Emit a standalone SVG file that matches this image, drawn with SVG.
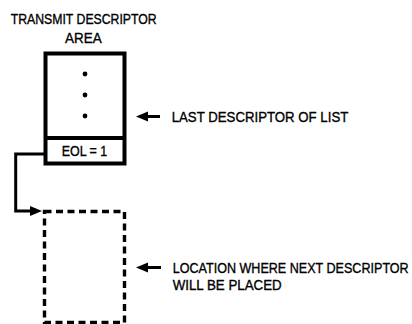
<svg xmlns="http://www.w3.org/2000/svg" width="412" height="324" viewBox="0 0 412 324">
<style>
  text { font-family: "Liberation Sans", Arial, sans-serif; font-size: 14.5px; fill: #000; stroke: #000; stroke-width: 0.35; }
  .box { fill: #fff; stroke: #000; stroke-width: 4; }
  .dash { fill: none; stroke: #000; stroke-width: 3.4; stroke-dasharray: 7 4.5; }
  .line { fill: none; stroke: #000; stroke-width: 3; }
</style>
<defs>
  <marker id="arr" markerUnits="userSpaceOnUse" markerWidth="13" markerHeight="11" refX="6" refY="5" orient="auto">
    <path d="M0,0 L12,5 L0,10 z" fill="#000"/>
  </marker>
</defs>
<rect width="412" height="324" fill="#fff"/>
<text x="10.7" y="23.5" textLength="146" lengthAdjust="spacingAndGlyphs">TRANSMIT DESCRIPTOR</text>
<text x="65" y="42.5" textLength="36.7" lengthAdjust="spacingAndGlyphs">AREA</text>
<g id="last-descriptor">
  <rect class="box" x="45.5" y="53.5" width="79" height="110"/>
  <line x1="45.5" y1="138" x2="124.5" y2="138" stroke="#000" stroke-width="4"/>
  <circle cx="85" cy="74" r="2.4"/>
  <circle cx="85" cy="95" r="2.4"/>
  <circle cx="85" cy="116" r="2.4"/>
  <text x="61.7" y="155.7" textLength="45.6" lengthAdjust="spacingAndGlyphs">EOL = 1</text>
</g>
<g id="next-location">
  <rect class="dash" x="44.5" y="211.5" width="80" height="111"/>
</g>
<g id="connectors">
  <path class="line" d="M45.5,154 H15.7 V211 H36" marker-end="url(#arr)"/>
  <path class="line" d="M160,116.5 H142" marker-end="url(#arr)"/>
  <path class="line" d="M161,267.5 H142" marker-end="url(#arr)"/>
</g>
<g id="labels">
  <text x="171.7" y="121.7" textLength="176.6" lengthAdjust="spacingAndGlyphs">LAST DESCRIPTOR OF LIST</text>
  <text x="172.7" y="273" textLength="236" lengthAdjust="spacingAndGlyphs">LOCATION WHERE NEXT DESCRIPTOR</text>
  <text x="172.7" y="289.5" textLength="109" lengthAdjust="spacingAndGlyphs">WILL BE PLACED</text>
</g>
</svg>
